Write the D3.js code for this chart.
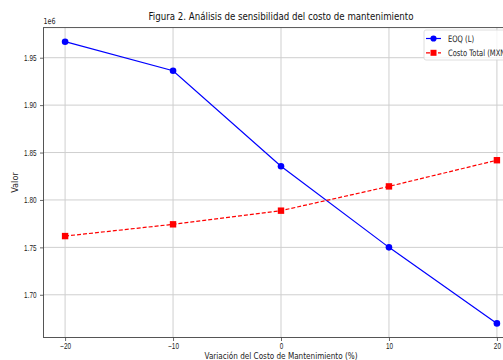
<!DOCTYPE html>
<html>
<head>
<meta charset="utf-8">
<script src="https://cdn.jsdelivr.net/npm/d3@7"></script>
<style>
  html, body { margin: 0; padding: 0; background: #fff; overflow: hidden; }
  svg { display: block; font-family: "DejaVu Sans", sans-serif; }
</style>
</head>
<body>
<div id="chart"></div>
<script>
// data (values in units, axis shows 1e6)
const variaciones = [-20, -10, 0, 10, 20];
const eoq = [1966900, 1936300, 1835500, 1750000, 1669800];
const costoTotal = [1761900, 1774300, 1788700, 1814300, 1841900];
const xTicks = [-20, -10, 0, 10, 20];
const yTicks = [1.70e6, 1.75e6, 1.80e6, 1.85e6, 1.90e6, 1.95e6];
const seriesNames = ['EOQ (L)', 'Costo Total (MXN)'];

const width = 503;
const height = 360;
const sx = 0.76; // picture is squeezed horizontally
const area = { left: 43.5, right: 518.5, top: 27.6, bottom: 337.5 };

const svg = d3.select('#chart').append('svg')
  .attr('width', width)
  .attr('height', height);

// matplotlib-like 5% padding
const allVals = eoq.concat(costoTotal);
const [lo, hi] = d3.extent(allVals);
const pad = (hi - lo) * 0.05;

const xScale = d3.scaleLinear()
  .domain([-22, 22])
  .range([area.left, area.right]);

const yScale = d3.scaleLinear()
  .domain([lo - pad, hi + pad])
  .range([area.bottom, area.top]);

// grid
const grid = svg.append('g').attr('class', 'grid');
grid.selectAll('line.gx')
  .data(xTicks)
  .join('line')
  .attr('class', 'gx')
  .attr('x1', (d) => xScale(d)).attr('x2', (d) => xScale(d))
  .attr('y1', area.top).attr('y2', area.bottom)
  .attr('stroke', '#cfcfcf').attr('stroke-width', 1);
grid.selectAll('line.gy')
  .data(yTicks)
  .join('line')
  .attr('class', 'gy')
  .attr('x1', area.left).attr('x2', area.right)
  .attr('y1', (d) => yScale(d)).attr('y2', (d) => yScale(d))
  .attr('stroke', '#cfcfcf').attr('stroke-width', 1);

// axes
const xAxis = svg.append('g')
  .attr('transform', `translate(0, ${area.bottom})`)
  .call(d3.axisBottom(xScale).tickValues(xTicks).tickSize(3.5).tickPadding(2.5)
    .tickFormat((d) => String(d).replace('-', '\u2212')));

const yAxis = svg.append('g')
  .attr('transform', `translate(${area.left}, 0)`)
  .call(d3.axisLeft(yScale).tickValues(yTicks).tickSize(3.5).tickPadding(6)
    .tickFormat((d) => (d / 1e6).toFixed(2)));

[xAxis, yAxis].forEach((ax) => {
  ax.select('.domain').remove();
  ax.selectAll('.tick line').attr('stroke', '#444').attr('stroke-width', 0.8);
  ax.selectAll('.tick text')
    .attr('fill', '#222')
    .style('font-size', '8.4px')
    .attr('transform', `scale(${sx},1)`);
});
// left axis text x gets scaled too, so push it back
yAxis.selectAll('.tick text').attr('x', -7 / sx);

// spines
svg.append('rect')
  .attr('x', area.left).attr('y', area.top)
  .attr('width', area.right - area.left)
  .attr('height', area.bottom - area.top)
  .attr('fill', 'none')
  .attr('stroke', '#444')
  .attr('stroke-width', 0.9);

// lines
const eoqData = variaciones.map((v, i) => ({ x: v, y: eoq[i] }));
const costoData = variaciones.map((v, i) => ({ x: v, y: costoTotal[i] }));

const line = d3.line()
  .x((d) => xScale(d.x))
  .y((d) => yScale(d.y));

svg.append('path')
  .datum(eoqData)
  .attr('d', line)
  .attr('fill', 'none')
  .attr('stroke', '#0000ff')
  .attr('stroke-width', 1.2);

svg.append('path')
  .datum(costoData)
  .attr('d', line)
  .attr('fill', 'none')
  .attr('stroke', '#ff0000')
  .attr('stroke-width', 1.2)
  .attr('stroke-dasharray', '4,2');

svg.append('g').selectAll('circle')
  .data(eoqData)
  .join('circle')
  .attr('cx', (d) => xScale(d.x))
  .attr('cy', (d) => yScale(d.y))
  .attr('r', 3.3)
  .attr('fill', '#0000ff');

svg.append('g').selectAll('rect')
  .data(costoData)
  .join('rect')
  .attr('x', (d) => xScale(d.x) - 3.2)
  .attr('y', (d) => yScale(d.y) - 3.2)
  .attr('width', 6.4)
  .attr('height', 6.4)
  .attr('fill', '#ff0000');

// 1e6 offset text
svg.append('text')
  .attr('transform', `translate(${area.left}, ${area.top - 4}) scale(${sx},1)`)
  .style('font-size', '8.4px')
  .attr('fill', '#222')
  .text('1e6');

// title
svg.append('text')
  .attr('x', (area.left + area.right) / 2)
  .attr('y', 20)
  .attr('text-anchor', 'middle')
  .attr('textLength', 265)
  .attr('lengthAdjust', 'spacingAndGlyphs')
  .style('font-size', '9.8px')
  .attr('fill', '#111')
  .text('Figura 2. Análisis de sensibilidad del costo de mantenimiento');

// x label (cut at the bottom in the original; kept readable here)
svg.append('text')
  .attr('x', (area.left + area.right) / 2)
  .attr('y', 359)
  .attr('text-anchor', 'middle')
  .attr('textLength', 153)
  .attr('lengthAdjust', 'spacingAndGlyphs')
  .style('font-size', '8px')
  .attr('fill', '#222')
  .text('Variación del Costo de Mantenimiento (%)');

// y label
svg.append('text')
  .attr('transform', `translate(18, ${(area.top + area.bottom) / 2}) rotate(-90)`)
  .attr('text-anchor', 'middle')
  .style('font-size', '8.2px')
  .attr('fill', '#222')
  .text('Valor');

// legend
const legend = svg.append('g').attr('transform', 'translate(424, 30)');
legend.append('rect')
  .attr('width', 100)
  .attr('height', 30)
  .attr('rx', 2)
  .attr('fill', '#fff')
  .attr('fill-opacity', 0.8)
  .attr('stroke', '#d6d6d6')
  .attr('stroke-width', 0.8);

const items = legend.selectAll('g.item')
  .data(seriesNames)
  .join('g')
  .attr('class', 'item')
  .attr('transform', (d, i) => `translate(0, ${8.5 + i * 14.3})`);

items.append('line')
  .attr('x1', 2).attr('x2', 17)
  .attr('stroke', (d, i) => (i === 0 ? '#0000ff' : '#ff0000'))
  .attr('stroke-width', 1.2)
  .attr('stroke-dasharray', (d, i) => (i === 0 ? null : '4,2'));

items.each(function (d, i) {
  const g = d3.select(this);
  if (i === 0) {
    g.append('circle').attr('cx', 9.5).attr('r', 3.1).attr('fill', '#0000ff');
  } else {
    g.append('rect').attr('x', 6.5).attr('y', -3).attr('width', 6).attr('height', 6).attr('fill', '#ff0000');
  }
});

items.append('text')
  .attr('transform', `translate(24, 3) scale(${sx},1)`)
  .style('font-size', '8.9px')
  .attr('fill', '#222')
  .text((d) => d);
</script>
</body>
</html>
